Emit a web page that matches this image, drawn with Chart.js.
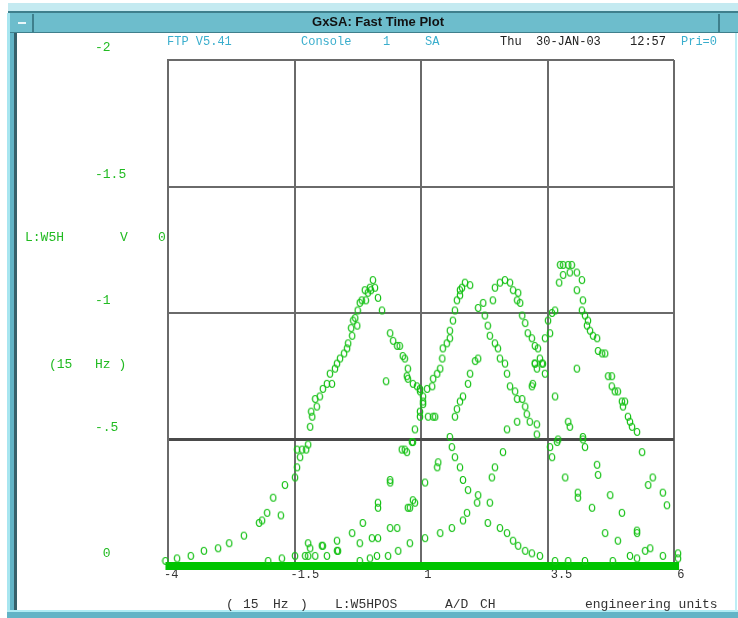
<!DOCTYPE html>
<html><head><meta charset="utf-8">
<script src="https://cdn.jsdelivr.net/npm/chart.js@4.4.1/dist/chart.umd.min.js"></script>
<style>
html,body{margin:0;padding:0;background:#fff;}
#wrap{position:relative;width:738px;height:618px;overflow:hidden;background:#fff;}
.b{position:absolute;}
.t{position:absolute;white-space:pre;font-family:"Liberation Mono","DejaVu Sans Mono",monospace;line-height:14px;}
.h{font-size:12px;color:#3aaecd;top:35px;}
.hk{color:#222;}
.g{font-size:13px;color:#22bb22;}
.f{font-size:13px;color:#333;top:598px;}
#c{position:absolute;left:0;top:0;}
</style></head>
<body><div id="wrap">
<div class="b" style="left:8px;top:3px;width:730px;height:9px;background:#c4eaf1;"></div>
<div class="b" style="left:8px;top:11px;width:730px;height:2px;background:#3f7f8c;"></div>
<div class="b" style="left:10px;top:13px;width:728px;height:20px;background:#6dbdcc;border-bottom:1px solid #3f7f8c;box-sizing:border-box;"></div>
<div class="b" style="left:12px;top:14px;width:22px;height:18px;border-right:2px solid #3f7f8c;box-sizing:border-box;"></div>
<div class="b" style="left:18px;top:22px;width:8px;height:2px;background:#e8f6f9;"></div>
<div class="b" style="left:718px;top:14px;width:20px;height:18px;border-left:2px solid #3f7f8c;box-sizing:border-box;"></div>
<div class="b" style="left:7px;top:13px;width:3px;height:600px;background:#a8e6f0;"></div>
<div class="b" style="left:10px;top:33px;width:4px;height:580px;background:#62b4c6;"></div>
<div class="b" style="left:14px;top:33px;width:3px;height:578px;background:#37606a;"></div>
<div class="b" style="left:7px;top:610px;width:731px;height:2px;background:#b0ecf4;"></div>
<div class="b" style="left:7px;top:612px;width:731px;height:6px;background:#62b4c6;"></div>
<div class="b" style="left:735px;top:33px;width:2px;height:578px;background:#bdeef5;"></div>
<canvas id="c" width="738" height="618"></canvas>
<div class="b" style="left:228px;top:14px;width:300px;height:18px;line-height:18px;text-align:center;font:bold 13px 'Liberation Sans',Arial,sans-serif;color:#111;">GxSA: Fast Time Plot</div>
<div class="t h" style="left:167px;">FTP V5.41</div>
<div class="t h" style="left:301px;">Console</div>
<div class="t h" style="left:383px;">1</div>
<div class="t h" style="left:425px;">SA</div>
<div class="t h hk" style="left:500px;">Thu</div>
<div class="t h hk" style="left:536px;">30-JAN-03</div>
<div class="t h hk" style="left:630px;">12:57</div>
<div class="t h" style="left:681px;">Pri=0</div>
<div class="t g" style="left:25px;top:231px;">L:W5H</div>
<div class="t g" style="left:120px;top:231px;">V</div>
<div class="t g" style="left:158px;top:231px;">0</div>
<div class="t g" style="left:49px;top:358px;">(15</div>
<div class="t g" style="left:95px;top:358px;">Hz )</div>
<div class="t f" style="left:226px;">(</div>
<div class="t f" style="left:243px;">15</div>
<div class="t f" style="left:273px;">Hz</div>
<div class="t f" style="left:300px;">)</div>
<div class="t f" style="left:335px;">L:W5HPOS</div>
<div class="t f" style="left:445px;">A/D</div>
<div class="t f" style="left:480px;">CH</div>
<div class="t f" style="left:585px;">engineering units</div>
</div>
<script>
// axis ticks
const xTickValues = [-4, -1.5, 1, 3.5, 6];
const xTickLabels = ['-4', '-1.5', ' 1', ' 3.5', ' 6'];
const yTickValues = [-2, -1.5, -1, -0.5, 0];
const yTickLabels = ['-2', '-1.5', '-1', '-.5', ' 0'];

// dense readings along zero
const baselineX = [-4.05, 6.1];
const baselineY = [0, 0];

// left peak scan
const scanLeft = [[-4.05,-0.02],[-4.03,0.02],[-3.82,-0.03],[-3.55,-0.04],[-3.29,-0.06],[-3.01,-0.07],[-2.79,-0.09],[-2.50,-0.12],[-2.20,-0.17],[-2.14,-0.18],[-2.04,-0.21],[-1.92,-0.27],[-1.77,-0.20],[-1.69,-0.32],[-1.49,-0.35],[-1.45,-0.39],[-1.39,-0.43],[-1.45,-0.46],[-1.35,-0.46],[-1.27,-0.46],[-1.23,-0.48],[-1.19,-0.55],[-1.15,-0.59],[-1.17,-0.61],[-1.06,-0.63],[-1.09,-0.66],[-1.00,-0.67],[-0.94,-0.70],[-0.86,-0.72],[-0.76,-0.72],[-0.80,-0.76],[-0.70,-0.78],[-0.66,-0.80],[-0.60,-0.82],[-0.52,-0.84],[-0.46,-0.86],[-0.44,-0.88],[-0.36,-0.91],[-0.38,-0.94],[-0.26,-0.95],[-0.34,-0.97],[-0.30,-0.98],[-0.25,-1.01],[-0.21,-1.04],[-0.17,-1.05],[-0.09,-1.05],[-0.11,-1.09],[-0.05,-1.08],[-0.01,-1.10],[0.01,-1.09],[0.05,-1.13],[0.09,-1.10],[0.15,-1.06],[0.23,-1.01],[0.31,-0.73],[0.39,-0.92],[0.45,-0.89],[0.53,-0.87],[0.58,-0.87],[0.64,-0.83],[0.68,-0.82],[0.74,-0.78],[0.72,-0.75],[0.74,-0.74],[0.84,-0.72],[0.92,-0.71],[0.98,-0.70],[0.98,-0.69]];

// middle peaks scan
const scanMid = [[1.04,-0.67],[1.04,-0.65],[0.98,-0.61],[0.88,-0.54],[1.14,-0.59],[1.24,-0.59],[1.12,-0.70],[1.22,-0.71],[1.24,-0.74],[1.32,-0.76],[1.38,-0.78],[1.42,-0.82],[1.43,-0.86],[1.51,-0.88],[1.57,-0.90],[1.57,-0.93],[1.63,-0.97],[1.67,-1.01],[1.71,-1.05],[1.77,-1.07],[1.77,-1.09],[1.81,-1.10],[1.87,-1.12],[1.97,-1.11],[2.13,-1.02],[2.23,-1.04],[2.26,-0.99],[2.32,-0.95],[2.36,-0.91],[2.46,-0.88],[2.52,-0.86],[2.56,-0.82],[2.66,-0.80],[2.70,-0.76],[2.76,-0.71],[2.86,-0.69],[2.90,-0.66],[3.00,-0.66],[3.06,-0.63],[3.09,-0.60],[3.15,-0.57],[3.29,-0.56],[3.29,-0.52],[2.90,-0.57],[2.70,-0.54],[2.42,-1.05],[2.46,-1.10],[2.56,-1.12],[2.66,-1.13],[2.76,-1.12],[2.82,-1.09],[2.92,-1.08],[2.90,-1.05],[2.96,-1.04],[3.00,-0.99],[3.06,-0.96],[3.11,-0.92],[3.19,-0.90],[3.25,-0.87],[3.31,-0.86],[3.35,-0.82],[3.41,-0.80],[3.45,-0.76],[3.19,-0.71],[3.21,-0.72],[3.25,-0.80],[3.29,-0.78],[2.13,-0.82],[2.07,-0.81],[1.97,-0.76],[1.93,-0.72],[1.83,-0.67],[1.77,-0.65],[1.71,-0.62],[1.67,-0.59]];

// lower scans
const scanLow = [[0.82,-0.49],[0.68,-0.46],[1.34,-0.41],[1.32,-0.39],[1.08,-0.33],[0.84,-0.26],[0.78,-0.23],[1.57,-0.51],[1.61,-0.47],[1.67,-0.43],[1.77,-0.39],[1.83,-0.34],[1.93,-0.30],[2.13,-0.28],[2.11,-0.25],[2.36,-0.25],[2.40,-0.35],[2.46,-0.39],[2.62,-0.45],[2.32,-0.17],[2.56,-0.15],[2.70,-0.13],[2.82,-0.10],[2.92,-0.08],[3.06,-0.06],[3.19,-0.05],[3.35,-0.04],[1.91,-0.21],[1.83,-0.18],[1.61,-0.15],[1.38,-0.13],[1.08,-0.11],[0.78,-0.09],[-1.49,-0.04],[-1.23,-0.04],[-1.23,-0.09],[-0.96,-0.08],[-0.94,-0.08],[-0.66,-0.10],[-0.64,-0.06],[-0.36,-0.13],[-0.21,-0.09],[-0.15,-0.17],[0.03,-0.11],[0.15,-0.11],[0.15,-0.25],[0.15,-0.23],[0.39,-0.15],[0.53,-0.15],[0.39,-0.34],[0.39,-0.33],[0.74,-0.23],[0.88,-0.25],[0.62,-0.46],[0.72,-0.45],[0.84,-0.49],[0.98,-0.59],[1.04,-0.64],[1.28,-0.59],[-0.21,-0.02],[-0.01,-0.03],[0.13,-0.04],[0.35,-0.04],[0.55,-0.06],[-1.75,-0.03],[-1.29,-0.04],[-1.19,-0.07],[-1.09,-0.04],[-0.86,-0.04],[-0.66,-0.06],[-2.02,-0.02]];

// right peak scan
const scanRight = [[3.75,-1.19],[3.81,-1.19],[3.91,-1.19],[3.98,-1.19],[3.81,-1.15],[3.94,-1.16],[4.08,-1.16],[4.18,-1.13],[3.73,-1.12],[4.08,-1.09],[4.20,-1.05],[4.18,-1.01],[4.24,-0.99],[4.30,-0.97],[4.28,-0.95],[4.34,-0.93],[4.40,-0.91],[4.48,-0.90],[4.50,-0.85],[4.58,-0.84],[4.64,-0.84],[4.70,-0.75],[4.77,-0.75],[4.77,-0.71],[4.83,-0.69],[4.89,-0.69],[4.97,-0.65],[5.03,-0.65],[4.99,-0.63],[5.09,-0.59],[5.13,-0.57],[5.17,-0.55],[5.27,-0.53],[5.37,-0.45],[3.65,-1.01],[3.59,-1.00],[3.51,-0.97],[3.55,-0.92],[3.45,-0.90],[3.25,-0.80],[3.39,-0.80],[4.08,-0.78],[3.65,-0.67],[3.91,-0.57],[3.94,-0.55],[4.20,-0.51],[4.20,-0.50],[3.69,-0.49],[3.55,-0.47],[3.59,-0.43],[3.71,-0.50],[4.24,-0.47],[4.48,-0.40],[4.50,-0.36],[3.85,-0.35],[4.10,-0.29],[4.10,-0.27],[4.74,-0.28],[4.38,-0.23],[4.97,-0.21],[4.64,-0.13],[4.89,-0.10],[5.27,-0.14],[5.27,-0.13],[5.58,-0.35],[5.49,-0.32],[5.78,-0.29],[5.86,-0.24],[5.53,-0.07],[5.43,-0.06],[5.13,-0.04],[5.27,-0.03],[5.78,-0.04],[3.65,-0.02],[3.91,-0.02],[4.24,-0.02],[4.79,-0.02]];

// readings piled at the right end
const scanEdge = [[6.10,-0.20],[6.10,-0.16],[6.10,-0.13],[6.10,-0.10],[6.10,-0.08],[6.10,-0.06],[6.10,-0.04],[6.10,-0.02],[6.08,-0.05],[6.08,-0.03],[6.10,-0.01]];

const GREEN = '#12c012';
function makeOval(){
  const c = document.createElement('canvas'); c.width = 8; c.height = 10;
  const g = c.getContext('2d');
  g.strokeStyle = GREEN; g.lineWidth = 1.2;
  g.beginPath(); g.ellipse(4, 5, 2.7, 3.5, 0, 0, Math.PI*2); g.stroke();
  return c;
}
const oval = makeOval();
const toPts = arr => arr.map(p => ({x: p[0], y: p[1]}));
const scatterSet = arr => ({data: toPts(arr), pointStyle: oval, pointRadius: 4, showLine: false, clip: false});

new Chart(document.getElementById('c'), {
  type: 'scatter',
  data: {datasets: [
    {type: 'line', data: baselineX.map((x, i) => ({x, y: baselineY[i]})), borderColor: '#00c400', borderWidth: 8, pointRadius: 0, clip: false, order: 5},
    scatterSet(scanLeft), scatterSet(scanMid), scatterSet(scanLow), scatterSet(scanRight), scatterSet(scanEdge)
  ]},
  options: {
    responsive: false, animation: false, devicePixelRatio: 1,
    layout: {padding: {left: 95, top: 60, right: 64, bottom: 32}},
    plugins: {legend: {display: false}, tooltip: {enabled: false}},
    scales: {
      x: {
        type: 'linear', min: -4, max: 6,
        afterBuildTicks: s => { s.ticks = xTickValues.map(v => ({value: v})); },
        afterFit: s => { s.height = 20; },
        ticks: {autoSkip: false, maxRotation: 0, minRotation: 0, align: 'start', labelOffset: -4, padding: 2,
          color: '#333', font: {family: 'Liberation Mono', size: 12},
          callback: (v, i) => xTickLabels[i]},
        grid: {color: '#6a6a6a', lineWidth: 2, drawTicks: false},
        border: {display: true, color: '#6a6a6a', width: 2}
      },
      y: {
        type: 'linear', min: -2, max: 0, reverse: true,
        afterBuildTicks: s => { s.ticks = yTickValues.map(v => ({value: v})); },
        afterFit: s => { s.width = 73; },
        ticks: {autoSkip: false, crossAlign: 'far', labelOffset: -12, padding: 0,
          color: '#22bb22', font: {family: 'Liberation Mono', size: 13},
          callback: (v) => yTickLabels[yTickValues.indexOf(v)]},
        grid: {color: c => (c.tick && c.tick.value === -0.5) ? '#4a4a4a' : '#6a6a6a',
               lineWidth: c => (c.tick && c.tick.value === -0.5) ? 3 : 2, drawTicks: false},
        border: {display: true, color: '#6a6a6a', width: 2}
      }
    }
  }
});
</script>
</body></html>
